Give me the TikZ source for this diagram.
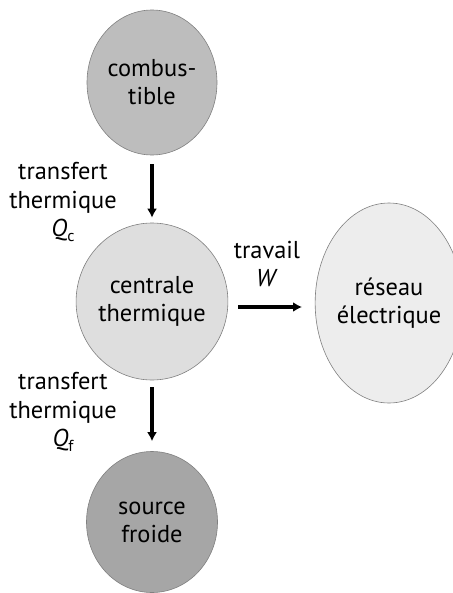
\documentclass[tikz,border=0pt]{standalone}
\usepackage{fontspec}
\setmainfont{PT Sans}
\usepackage{tikz}
\usetikzlibrary{shapes.geometric,arrows.meta,calc,positioning}

\begin{document}
\begin{tikzpicture}[x=1bp,y=-1bp,
		bulle/.style={ellipse, draw=black!50, line width=0.6bp, inner sep=0pt, align=center,
			font=\fontsize{24.5}{28}\selectfont},
		legende/.style={align=center, font=\fontsize{24.5}{28.5}\selectfont},
		fleche/.style={-{Latex[length=9bp,width=10bp]}, line width=3.4bp}]
		
		\useasboundingbox (0,0) rectangle (453,593);
		
		\node[bulle, fill=black!26, minimum width=130bp, minimum height=145bp] (comb) at (152,82.5) {combus-\\tible};
		\node[bulle, fill=black!13, minimum width=130bp, minimum height=157bp] (centrale) at (152,301.5) {centrale\\thermique};
		\node[bulle, fill=black!35, minimum width=131bp, minimum height=141bp] (froide) at (152,522) {source\\froide};
		\node[bulle, fill=black!7, minimum width=126bp, minimum height=200bp] (reseau) at (389,303) {réseau\\électrique};
		
		\coordinate (Wdeb) at (238,307);
		\coordinate (Wfin) at (302,307);
		
		\draw[fleche, shorten <=9bp, shorten >=5bp] (comb) -- (centrale);
		\draw[fleche, shorten <=7bp, shorten >=10bp] (centrale) -- (froide);
		\draw[fleche] (Wdeb) -- (Wfin);
		
		\node[legende] (Qc) at (63,202) {transfert\\thermique\\\textit{Q}\raisebox{-0.35ex}{\fontsize{16}{16}\selectfont c}};
		\node[legende] (Qf) at (63,412) {transfert\\thermique\\\textit{Q}\raisebox{-0.35ex}{\fontsize{16}{16}\selectfont f}};
		\node[legende] (W) at (267,264) {travail\\\textit{W}};
	\end{tikzpicture}
\end{document}
